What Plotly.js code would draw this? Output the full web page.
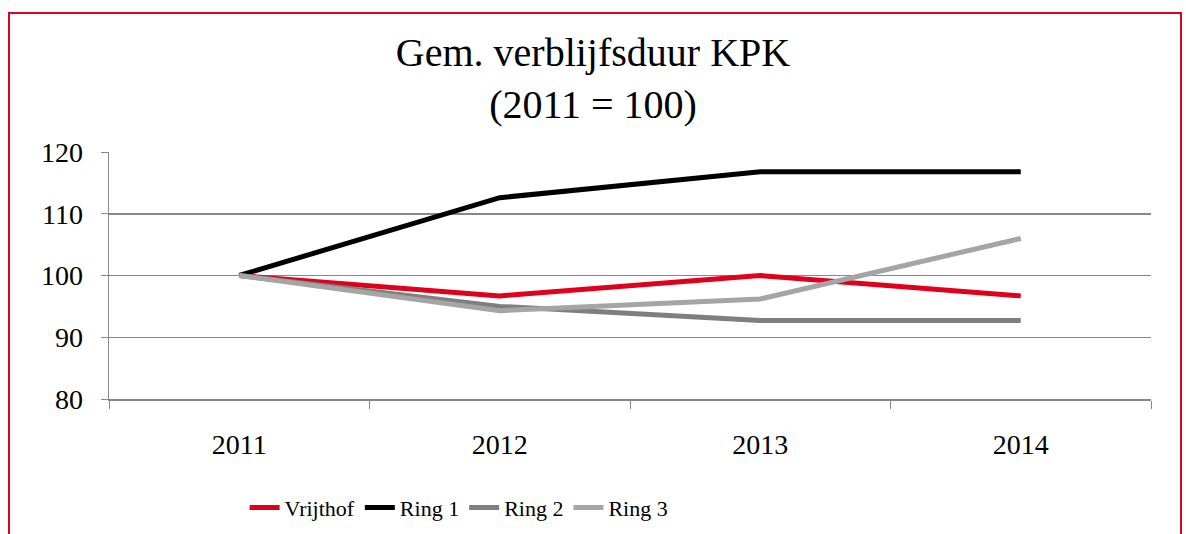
<!DOCTYPE html>
<html>
<head>
<meta charset="utf-8">
<script src="https://cdn.plot.ly/plotly-3.0.1.min.js"></script>
<style>
html,body{margin:0;padding:0;background:#fff;}
#wrap{position:relative;width:1186px;height:534px;overflow:hidden;}
#chart{position:absolute;left:0;top:0;width:1186px;height:534px;}
#frame{position:absolute;left:8px;top:12px;width:1170px;height:560px;border:2px solid #E0001B;pointer-events:none;}
</style>
</head>
<body>
<div id="wrap"><div id="chart"></div><div id="frame"></div></div>
<script>
const years = ['2011', '2012', '2013', '2014'];
const vrijthof = [100, 96.7, 100, 96.7];
const ring1 = [100, 112.6, 116.8, 116.8];
const ring2 = [100, 95.0, 92.7, 92.7];
const ring3 = [100, 94.3, 96.2, 106.0];
const yTicks = [80, 90, 100, 110, 120];

const font = 'Liberation Serif, DejaVu Serif, serif';
function tr(name, y, color) {
  return {x: years, y: y, name: name, type: 'scatter', mode: 'lines',
    line: {color: color, width: 5, shape: 'linear'}};
}
const data = [
  tr('Vrijthof', vrijthof, '#E0001B'),
  tr('Ring 1', ring1, '#000000'),
  tr('Ring 2', ring2, '#7F7F7F'),
  tr('Ring 3', ring3, '#A5A5A5')
];
const layout = {
  width: 1186, height: 534,
  margin: {l: 109, r: 35, t: 152, b: 135, autoexpand: false},
  paper_bgcolor: '#fff', plot_bgcolor: '#fff',
  font: {family: font, color: '#000', size: 20},
  title: {text: 'Gem. verblijfsduur KPK<br>(2011 = 100)', font: {family: font, size: 40, color: '#000'},
    x: 0.5, xanchor: 'center', y: 1 - 66 / 534, yanchor: 'middle', yref: 'container', automargin: false},
  xaxis: {type: 'category', range: [-0.5, 3.5], tickson: 'boundaries', ticks: 'outside', ticklen: 8, tickcolor: '#888',
    showline: true, linecolor: '#888', linewidth: 1.5, showgrid: false, ticklabelstandoff: 20,
    tickfont: {family: font, size: 28}, fixedrange: true},
  yaxis: {range: [80, 120], tickvals: yTicks, ticks: 'outside', ticklen: 7, tickcolor: '#888',
    showline: true, linecolor: '#888', linewidth: 1.5, showgrid: true, gridcolor: '#888', gridwidth: 1.5,
    zeroline: false, ticklabelstandoff: 12, tickfont: {family: font, size: 28}, fixedrange: true},
  showlegend: true,
  legend: {orientation: 'h', x: 0.336, xanchor: 'center', y: -0.44, yanchor: 'middle',
    font: {family: font, size: 22}},
  hovermode: false
};
Plotly.newPlot('chart', data, layout, {displayModeBar: false, staticPlot: true});
</script>
</body>
</html>
